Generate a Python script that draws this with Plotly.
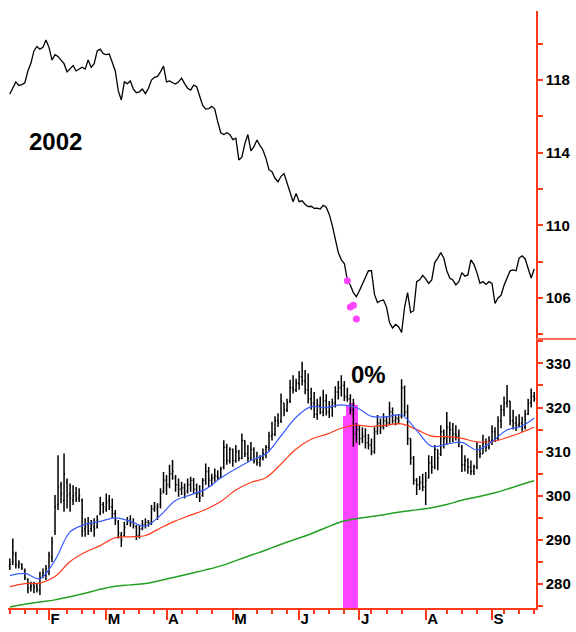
import pandas as pd
import plotly.graph_objects as go

# ---------------- data ----------------
HOLIDAYS = ["2002-01-21", "2002-02-18", "2002-03-29", "2002-05-27", "2002-07-04", "2002-09-02"]
DATES = pd.bdate_range("2002-01-14", "2002-09-23", freq="C", holidays=HOLIDAYS)
MONTH_LABELS = ["F", "M", "A", "M", "J", "J", "A", "S"]

# upper panel line (right scale 106..118)
TOP_LINE = [
    117.23, 117.6, 117.9, 117.7, 117.75, 117.85, 118.5, 118.92, 119.6, 119.85,
    119.7, 119.8, 120.2, 119.8, 119.1, 119.4, 119.3, 119.1, 118.9, 118.45,
    118.6, 118.8, 118.5, 118.6, 118.7, 118.6, 119.1, 118.7, 118.9, 119.6,
    119.7, 119.45, 119.4, 119.43, 119.0, 118.5, 117.4, 116.9, 117.9, 117.8,
    117.95, 117.5, 117.3, 117.35, 117.5, 117.25, 117.55, 118.0, 118.15, 118.2,
    118.45, 118.77, 117.9, 117.95, 117.85, 117.78, 117.9, 118.1, 117.8, 117.55,
    117.45, 117.72, 117.63, 117.1, 116.6, 116.4, 116.42, 116.55, 116.4, 115.7,
    115.1, 115.0, 115.1, 115.0, 114.72, 114.8, 113.6, 113.75, 114.5, 115.0,
    114.1, 114.33, 114.7, 114.4, 114.15, 113.69, 113.05, 112.95, 112.59, 112.4,
    112.7, 112.85, 112.31, 111.75, 111.3, 111.76, 111.3, 111.35, 111.15, 111.03,
    111.05, 110.94, 110.95, 110.9, 111.1, 111.0, 110.6, 110.0, 109.2, 108.5,
    108.1, 107.9, 107.0, 106.7, 106.3, 106.07, 106.4, 106.8, 107.2, 107.5,
    107.5, 106.2, 105.75, 105.85, 105.89, 105.5, 104.65, 104.35, 104.55, 104.42,
    104.1, 105.5, 106.3, 105.2, 105.3, 106.9, 107.0, 107.25, 107.05, 106.8,
    107.0, 107.95, 108.2, 108.5, 108.2, 107.5, 107.1, 107.0, 106.72, 106.9,
    107.4, 107.2, 107.27, 108.1, 107.85, 107.4, 106.81, 106.9, 106.75, 106.9,
    106.8, 105.7, 106.0, 106.15, 106.7, 107.1, 107.5, 107.55, 107.5, 108.2,
    108.32, 108.15, 107.6, 107.1, 107.6,
]
# magenta signal dots on the upper line (trading-day number, value)
DOT_DAY = [112, 113, 114, 115]
DOT_VAL = [106.95, 105.5, 105.6, 104.85]

# lower panel daily bars
OPEN = [
    284.0, 285.0, 286.5, 284.2, 284.5, 283.0, 281.0, 279.2, 279.8, 279.5,
    278.5, 281.8, 282.0, 283.0, 286.0, 292.0, 298.0, 302.5, 299.0, 303.0,
    300.5, 299.0, 300.5, 299.5, 299.0, 292.5, 293.5, 292.5, 293.0, 293.0,
    296.0, 298.0, 297.0, 299.0, 297.5, 296.0, 294.0, 291.0, 291.0, 293.5,
    294.5, 294.0, 293.0, 291.0, 292.5, 293.5, 294.0, 294.0, 297.0, 297.0,
    298.0, 301.0, 303.5, 302.5, 305.0, 304.0, 302.5, 301.5, 301.8, 301.0,
    302.5, 303.5, 301.5, 300.5, 300.0, 303.5, 305.5, 303.5, 304.0, 304.5,
    304.2, 306.5, 311.0, 308.0, 310.5, 308.0, 310.0, 308.5, 312.5, 309.5,
    308.5, 310.5, 308.0, 307.5, 308.5, 309.5, 311.0, 313.5, 314.0, 317.0,
    317.0, 321.0, 319.5, 321.5, 324.5, 324.0, 325.5, 327.0, 326.0, 324.0,
    322.0, 321.0, 318.5, 320.5, 319.0, 321.5, 319.0, 320.0, 321.0, 323.5,
    324.5, 325.0, 322.5, 322.0, 319.5, 314.0, 315.0, 313.0, 313.5, 312.0,
    311.5, 310.0, 314.5, 316.5, 315.5, 317.0, 316.5, 319.0, 317.0, 317.5,
    318.0, 324.5, 319.0, 313.0, 308.5, 303.5, 302.5, 303.0, 302.0, 304.0,
    307.5, 306.5, 310.5, 309.5, 314.5, 313.0, 315.5, 315.0, 314.0, 313.5,
    311.0, 307.0, 308.0, 306.5, 305.5, 306.5, 310.5, 309.5, 312.0, 311.0,
    312.5, 314.5, 313.0, 317.0, 319.5, 321.0, 321.5, 317.0, 316.5, 316.0,
    316.5, 315.5, 318.5, 321.0, 322.5,
]
HIGH = [
    285.8, 290.3, 287.3, 285.4, 284.7, 283.5, 281.3, 280.5, 280.5, 280.1,
    282.8, 283.5, 284.3, 287.3, 290.7, 300.2, 309.2, 303.2, 309.6, 303.9,
    302.8, 302.4, 302.0, 301.7, 299.4, 294.9, 295.2, 294.5, 294.9, 295.6,
    299.8, 298.6, 300.5, 300.2, 299.4, 296.8, 294.5, 291.8, 294.1, 295.2,
    295.6, 294.9, 293.4, 293.4, 294.5, 294.9, 294.5, 297.9, 298.6, 298.3,
    301.7, 305.4, 304.7, 307.0, 308.1, 304.7, 303.9, 303.2, 302.8, 303.9,
    304.3, 304.0, 302.8, 302.4, 304.0, 307.3, 306.5, 305.0, 306.2, 305.8,
    306.6, 312.6, 311.8, 311.0, 310.7, 311.5, 310.4, 314.1, 312.6, 311.5,
    312.2, 311.0, 310.0, 309.2, 310.7, 311.5, 314.5, 316.8, 318.0, 318.7,
    323.2, 321.0, 322.0, 326.3, 327.3, 326.5, 328.3, 330.4, 328.5, 327.7,
    324.5, 323.5, 322.0, 322.5, 324.0, 323.0, 321.5, 322.0, 324.8, 326.0,
    327.3, 326.0, 324.5, 323.0, 322.0, 316.5, 316.0, 315.5, 315.3, 314.0,
    313.0, 315.5, 318.3, 317.5, 318.7, 318.0, 321.3, 320.0, 318.3, 318.5,
    326.4, 325.0, 320.6, 313.0, 309.0, 304.0, 304.5, 305.0, 305.4, 309.2,
    309.0, 311.5, 310.5, 316.0, 315.0, 319.0, 316.8, 316.5, 316.0, 315.0,
    311.5, 309.2, 308.5, 308.0, 307.0, 312.2, 311.5, 313.8, 313.0, 313.5,
    316.0, 315.5, 318.0, 320.6, 322.5, 325.1, 321.5, 319.5, 318.0, 318.5,
    317.9, 319.5, 322.0, 324.3, 323.5,
]
LOW = [
    283.2, 284.3, 283.5, 283.5, 283.2, 280.9, 277.9, 278.3, 277.9, 278.1,
    277.5, 281.3, 280.9, 282.0, 285.0, 291.1, 296.8, 298.3, 296.4, 297.1,
    296.4, 297.9, 298.6, 298.6, 290.7, 290.7, 291.1, 291.8, 290.7, 292.6,
    295.6, 296.0, 296.4, 296.8, 294.9, 293.4, 290.3, 288.4, 290.7, 293.4,
    293.0, 292.6, 290.0, 290.3, 292.2, 292.6, 293.0, 293.4, 296.4, 294.5,
    297.1, 300.5, 300.2, 301.7, 303.6, 300.9, 299.8, 300.2, 299.4, 300.5,
    300.9, 300.5, 299.5, 298.6, 299.8, 302.5, 302.0, 302.2, 303.2, 303.6,
    304.0, 306.0, 307.0, 307.3, 306.6, 307.5, 307.8, 308.3, 308.8, 307.7,
    308.0, 307.3, 306.8, 306.6, 308.0, 308.5, 310.0, 312.5, 313.5, 315.6,
    316.5, 318.0, 319.0, 321.0, 323.2, 323.5, 324.0, 325.0, 323.0, 320.9,
    319.5, 317.6, 317.2, 318.5, 318.0, 318.2, 317.6, 317.9, 320.0, 321.8,
    322.5, 321.5, 321.3, 318.5, 311.1, 312.0, 311.5, 311.9, 310.7, 310.5,
    309.2, 309.5, 313.8, 314.0, 315.0, 315.6, 316.0, 316.3, 316.0, 316.2,
    317.5, 318.0, 311.5, 307.0, 302.5, 300.2, 301.3, 301.0, 297.9, 303.9,
    305.0, 306.0, 305.8, 309.0, 310.7, 311.5, 312.0, 312.2, 312.5, 311.0,
    305.4, 305.5, 305.0, 304.7, 304.7, 306.0, 308.5, 309.5, 310.0, 310.5,
    311.5, 312.2, 312.5, 315.3, 318.0, 320.0, 316.0, 315.0, 314.7, 315.5,
    314.5, 315.0, 318.3, 320.0, 321.3,
]
CLOSE = [
    284.5, 287.0, 284.5, 284.8, 283.6, 281.5, 279.0, 279.5, 279.2, 278.8,
    281.5, 282.5, 283.5, 286.5, 289.5, 297.5, 302.0, 300.5, 305.0, 300.0,
    299.5, 300.0, 299.2, 300.0, 292.0, 293.0, 292.0, 293.5, 292.5, 294.5,
    298.0, 297.5, 298.5, 297.5, 296.0, 294.5, 291.5, 290.0, 292.8, 294.2,
    293.8, 293.2, 291.0, 292.5, 293.5, 294.0, 293.8, 297.0, 297.5, 297.5,
    300.5, 303.5, 302.5, 305.0, 305.5, 302.5, 301.5, 301.8, 300.5, 302.5,
    303.5, 301.5, 300.5, 299.5, 303.5, 305.5, 303.5, 304.0, 304.5, 304.0,
    306.0, 311.0, 308.0, 310.5, 308.0, 310.0, 308.5, 312.5, 309.5, 308.5,
    310.5, 308.0, 307.5, 308.5, 309.5, 311.0, 313.5, 314.0, 317.0, 316.5,
    321.5, 319.5, 321.0, 324.5, 324.0, 325.5, 327.0, 326.0, 324.0, 322.0,
    321.0, 318.5, 320.5, 319.0, 321.5, 319.0, 320.0, 321.0, 323.5, 324.5,
    325.0, 322.5, 322.0, 319.5, 314.0, 315.0, 313.0, 313.5, 312.0, 311.5,
    310.0, 314.5, 316.5, 315.5, 317.0, 316.5, 319.0, 317.0, 317.5, 317.0,
    324.5, 319.0, 313.0, 308.5, 303.5, 302.5, 303.0, 302.0, 303.5, 307.5,
    306.5, 310.5, 308.5, 314.5, 313.0, 315.5, 315.0, 314.0, 313.5, 312.0,
    307.0, 308.0, 306.5, 305.5, 306.5, 310.5, 309.5, 312.0, 311.0, 312.5,
    314.5, 313.0, 317.0, 319.5, 321.0, 321.5, 317.0, 316.5, 316.0, 316.5,
    315.5, 318.5, 321.0, 322.5, 322.0,
]

# moving averages, sampled every 5 trading days (plus the last day)
MA_DAY = [0, 5, 10, 15, 20, 25, 30, 35, 40, 45, 50, 55, 60, 65, 70, 75, 80, 85,
          90, 95, 100, 105, 110, 115, 120, 125, 130, 135, 140, 145, 150, 155,
          160, 165, 170, 174]
MA_FAST = [281.9, 282.4, 281.2, 285.4, 291.8, 293.5, 294.2, 295.0, 294.2, 293.1,
           295.6, 298.9, 300.2, 301.5, 304.0, 306.1, 308.0, 309.5, 313.6, 317.8,
           320.2, 320.0, 320.6, 320.0, 318.0, 317.9, 318.3, 314.8, 311.2, 311.7,
           312.1, 310.4, 312.3, 314.9, 315.8, 317.6]
MA_MID = [279.4, 280.1, 280.2, 281.7, 285.1, 287.2, 288.7, 290.5, 290.7, 291.0,
          292.7, 294.3, 295.6, 296.9, 298.7, 301.3, 303.0, 304.1, 307.2, 310.6,
          312.8, 313.9, 315.3, 316.0, 315.7, 316.0, 316.3, 315.0, 313.5, 313.4,
          313.0, 312.2, 312.3, 313.2, 314.4, 315.6]
MA_SLOW = [274.8, 275.4, 275.9, 276.4, 277.1, 277.9, 278.8, 279.5, 279.8, 280.1,
           280.8, 281.6, 282.4, 283.2, 284.1, 285.3, 286.5, 287.7, 289.0, 290.2,
           291.4, 292.8, 294.1, 294.8, 295.3, 295.8, 296.4, 296.8, 297.3, 298.0,
           299.0, 299.7, 300.5, 301.5, 302.6, 303.4]

# magenta highlight (trading-day number, top value)
HL_DAY = [111, 112, 113, 114, 115]
HL_TOP = [318.0, 320.5, 321.0, 321.0, 320.5]

TOP_RANGE = [103.8, 121.8]
BOT_RANGE = [274.56, 335.3]

# ---------------- figure ----------------
RED = "#ff3a1a"
FONT = "Liberation Sans, Arial, sans-serif"
DAY = list(range(len(DATES)))

month_ticks = [i for i in range(1, len(DATES)) if DATES[i].month != DATES[i - 1].month]
week_ticks = [i for i in range(len(DATES))
              if (i == 0 or DATES[i].weekday() <= DATES[i - 1].weekday())
              and all(abs(i - m) > 3 for m in month_ticks)]

fig = go.Figure()

fig.add_trace(go.Scatter(x=DAY, y=TOP_LINE, mode="lines",
                         line=dict(color="black", width=1.3),
                         xaxis="x", yaxis="y", hoverinfo="skip"))
fig.add_trace(go.Scatter(x=DOT_DAY, y=DOT_VAL, mode="markers",
                         marker=dict(color="#ff44ff", size=7),
                         xaxis="x", yaxis="y", hoverinfo="skip"))

fig.add_trace(go.Bar(x=HL_DAY, y=[t - BOT_RANGE[0] for t in HL_TOP], base=BOT_RANGE[0],
                     width=1.0, marker=dict(color="#ff44ff", line=dict(width=0)),
                     xaxis="x2", yaxis="y2", hoverinfo="skip"))
fig.add_trace(go.Ohlc(x=DAY, open=OPEN, high=HIGH, low=LOW, close=CLOSE,
                      increasing=dict(line=dict(color="black", width=1.5)),
                      decreasing=dict(line=dict(color="black", width=1.5)),
                      tickwidth=0.35, xaxis="x2", yaxis="y2", hoverinfo="skip"))
fig.add_trace(go.Scatter(x=MA_DAY, y=MA_SLOW, mode="lines",
                         line=dict(color="#22a022", width=1.5, shape="spline"),
                         xaxis="x2", yaxis="y2", hoverinfo="skip"))
fig.add_trace(go.Scatter(x=MA_DAY, y=MA_MID, mode="lines",
                         line=dict(color="#ff3a1a", width=1.2, shape="spline"),
                         xaxis="x2", yaxis="y2", hoverinfo="skip"))
fig.add_trace(go.Scatter(x=MA_DAY, y=MA_FAST, mode="lines",
                         line=dict(color="#3a5cff", width=1.2, shape="spline"),
                         xaxis="x2", yaxis="y2", hoverinfo="skip"))

tickfont = dict(family=FONT, size=15, color="black", weight="bold")
xr = [-0.6, 174.6]

fig.update_layout(
    width=576, height=632,
    margin=dict(l=8, r=40, t=11, b=24, autoexpand=False),
    paper_bgcolor="white", plot_bgcolor="white",
    showlegend=False, bargap=0,
    xaxis=dict(domain=[0, 1], range=xr, matches="x2", visible=False, anchor="y"),
    yaxis=dict(domain=[0.4523, 1], range=TOP_RANGE, side="right", anchor="x",
               showline=True, linecolor=RED, linewidth=1.5, mirror=False,
               ticks="outside", ticklen=5, tickcolor=RED, tickwidth=1.5,
               tickmode="linear", tick0=106, dtick=4,
               minor=dict(ticks="outside", ticklen=5, tickcolor=RED, tickwidth=1.5,
                          tick0=106, dtick=2),
               tickfont=tickfont, showgrid=False, zeroline=False, automargin=False),
    xaxis2=dict(domain=[0, 1], range=xr, anchor="y2",
                showline=True, linecolor=RED, linewidth=1.5,
                ticks="outside", ticklen=10, tickcolor=RED, tickwidth=1.5,
                tickmode="array", tickvals=month_ticks, ticktext=MONTH_LABELS,
                ticklabelposition="outside right", ticklabelstandoff=-4,
                minor=dict(ticks="outside", ticklen=4, tickcolor=RED, tickwidth=1.5,
                           tickmode="array", tickvals=week_ticks),
                tickfont=tickfont, showgrid=False, zeroline=False, automargin=False,
                rangeslider=dict(visible=False)),
    yaxis2=dict(domain=[0, 0.4489], range=BOT_RANGE, side="right", anchor="x2",
                showline=True, linecolor=RED, linewidth=1.5,
                ticks="outside", ticklen=5, tickcolor=RED, tickwidth=1.5,
                tickmode="linear", tick0=280, dtick=10,
                minor=dict(ticks="outside", ticklen=5, tickcolor=RED, tickwidth=1.5,
                           tick0=280, dtick=5),
                tickfont=tickfont, showgrid=False, zeroline=False, automargin=False),
    shapes=[dict(type="line", xref="paper", yref="paper", x0=1, x1=1.08,
                 y0=0.4506, y1=0.4506, line=dict(color=RED, width=1.5))],
    annotations=[
        dict(text="2002", xref="paper", yref="paper", x=0.036, y=0.7806,
             xanchor="left", yanchor="middle", showarrow=False,
             font=dict(family=FONT, size=24, color="black", weight="bold")),
        dict(text="0%", xref="paper", yref="paper", x=0.6458, y=0.3903,
             xanchor="left", yanchor="middle", showarrow=False,
             font=dict(family=FONT, size=24, color="black", weight="bold")),
    ],
)

fig.write_html("out.html")
